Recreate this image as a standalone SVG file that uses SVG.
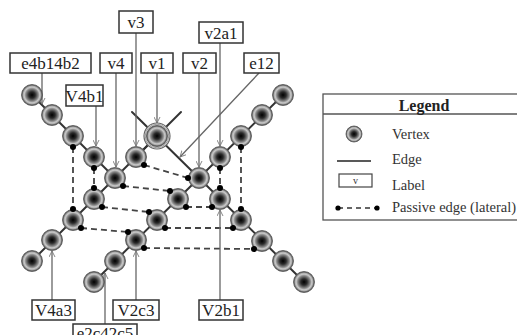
<svg xmlns="http://www.w3.org/2000/svg" xmlns:xlink="http://www.w3.org/1999/xlink" width="517" height="335" viewBox="0 0 517 335">
<style>
.edge{stroke:#333;stroke-width:2;fill:none;stroke-linecap:round}
.pass{stroke:#444;stroke-width:1.8;stroke-dasharray:6,4;fill:none}
.dot{fill:#000}
.lline{stroke:#666;stroke-width:1.3;fill:none}
.box{fill:#fff;stroke:#333;stroke-width:1.5}
.lt{font-family:"Liberation Serif",serif;font-size:17px;fill:#222;text-anchor:middle}
.leg{font-family:"Liberation Serif",serif;font-size:14.5px;fill:#333}
.vtx{fill:url(#vg);stroke:#555;stroke-width:0.8}
</style>
<defs>
<radialGradient id="vg" cx="0.5" cy="0.5" r="0.5">
<stop offset="0" stop-color="#000"/>
<stop offset="0.3" stop-color="#2a2a2a"/>
<stop offset="0.6" stop-color="#8a8a8a"/>
<stop offset="0.74" stop-color="#c8c8c8"/>
<stop offset="0.84" stop-color="#adadad"/>
<stop offset="0.92" stop-color="#707070"/>
<stop offset="1" stop-color="#555"/>
</radialGradient>
<marker id="arr" viewBox="0 0 8 8" refX="7" refY="4" markerWidth="7" markerHeight="7" orient="auto" markerUnits="userSpaceOnUse">
<path d="M0,0.5 L7,4 L0,7.5" fill="none" stroke="#777" stroke-width="1"/>
</marker>
</defs>
<rect width="517" height="335" fill="#fff"/>

<g id="connectors">
<line class="edge" x1="32" y1="95" x2="115" y2="178"/>
<line class="edge" x1="115" y1="178" x2="157" y2="136"/>
<line class="edge" x1="132" y1="112" x2="199" y2="178"/>
<line class="edge" x1="181" y1="112" x2="136" y2="157"/>
<line class="edge" x1="283" y1="95" x2="199" y2="178"/>
<line class="edge" x1="199" y1="178" x2="94" y2="282"/>
<line class="edge" x1="199" y1="178" x2="304" y2="282"/>
<line class="edge" x1="115" y1="178" x2="32" y2="261"/>

<line class="pass" x1="73" y1="147" x2="73" y2="209"/>
<line class="pass" x1="94" y1="168" x2="94" y2="188"/>
<line class="pass" x1="220" y1="168" x2="220" y2="188"/>
<line class="pass" x1="241" y1="147" x2="241" y2="209"/>
<line class="pass" x1="144" y1="165" x2="188" y2="178"/>
<line class="pass" x1="123" y1="186" x2="170" y2="191"/>
<line class="pass" x1="102" y1="207" x2="149" y2="212"/>
<line class="pass" x1="81" y1="228" x2="128" y2="232"/>
<line class="pass" x1="186" y1="207" x2="212" y2="207"/>
<line class="pass" x1="165" y1="228" x2="233" y2="228"/>
<line class="pass" x1="144" y1="248" x2="254" y2="249"/>

<line class="lline" x1="42" y1="73" x2="42" y2="104" marker-end="url(#arr)"/>
<line class="lline" x1="96" y1="106" x2="96" y2="146" marker-end="url(#arr)"/>
<line class="lline" x1="116" y1="73" x2="116" y2="167" marker-end="url(#arr)"/>
<line class="lline" x1="136" y1="33" x2="136" y2="146" marker-end="url(#arr)"/>
<line class="lline" x1="157" y1="73" x2="157" y2="123" marker-end="url(#arr)"/>
<line class="lline" x1="199" y1="73" x2="199" y2="167" marker-end="url(#arr)"/>
<line class="lline" x1="220" y1="43" x2="220" y2="146" marker-end="url(#arr)"/>
<line class="lline" x1="259" y1="73" x2="180" y2="157" marker-end="url(#arr)"/>
<line class="lline" x1="52" y1="300" x2="52" y2="251" marker-end="url(#arr)"/>
<line class="lline" x1="136" y1="300" x2="136" y2="251" marker-end="url(#arr)"/>
<line class="lline" x1="220" y1="300" x2="220" y2="210" marker-end="url(#arr)"/>
<line class="lline" x1="105" y1="324" x2="105" y2="273" marker-end="url(#arr)"/>
</g>

<g id="v1-ring"><circle cx="157" cy="136" r="13" fill="#fff" stroke="#666" stroke-width="1.2"/><circle cx="157" cy="136" r="11.8" fill="#ddd" stroke="#888" stroke-width="0.8"/></g>

<g id="nodes">
<g id="n-a1"><circle class="vtx" cx="32" cy="95" r="10.5"/></g>
<g id="n-a2"><circle class="vtx" cx="52" cy="115" r="10.5"/></g>
<g id="n-a3"><circle class="vtx" cx="73" cy="136" r="10.5"/></g>
<g id="n-v4b1"><circle class="vtx" cx="94" cy="157" r="10.5"/></g>
<g id="n-v4"><circle class="vtx" cx="115" cy="178" r="10.5"/></g>
<g id="n-v3"><circle class="vtx" cx="136" cy="157" r="10.5"/></g>
<g id="n-v1"><circle class="vtx" cx="157" cy="136" r="10.5"/></g>
<g id="n-b1"><circle class="vtx" cx="283" cy="95" r="10.5"/></g>
<g id="n-b2"><circle class="vtx" cx="262" cy="115" r="10.5"/></g>
<g id="n-b3"><circle class="vtx" cx="241" cy="136" r="10.5"/></g>
<g id="n-v2a1"><circle class="vtx" cx="220" cy="157" r="10.5"/></g>
<g id="n-v2"><circle class="vtx" cx="199" cy="178" r="10.5"/></g>
<g id="n-c1"><circle class="vtx" cx="178" cy="199" r="10.5"/></g>
<g id="n-c2"><circle class="vtx" cx="157" cy="220" r="10.5"/></g>
<g id="n-v2c3"><circle class="vtx" cx="136" cy="240" r="10.5"/></g>
<g id="n-c4"><circle class="vtx" cx="115" cy="261" r="10.5"/></g>
<g id="n-c5"><circle class="vtx" cx="94" cy="282" r="10.5"/></g>
<g id="n-v2b1"><circle class="vtx" cx="220" cy="199" r="10.5"/></g>
<g id="n-d2"><circle class="vtx" cx="241" cy="220" r="10.5"/></g>
<g id="n-d3"><circle class="vtx" cx="262" cy="241" r="10.5"/></g>
<g id="n-d4"><circle class="vtx" cx="283" cy="261" r="10.5"/></g>
<g id="n-d5"><circle class="vtx" cx="304" cy="282" r="10.5"/></g>
<g id="n-e1"><circle class="vtx" cx="94" cy="199" r="10.5"/></g>
<g id="n-e2"><circle class="vtx" cx="73" cy="220" r="10.5"/></g>
<g id="n-v4a3"><circle class="vtx" cx="52" cy="240" r="10.5"/></g>
<g id="n-e4"><circle class="vtx" cx="32" cy="261" r="10.5"/></g>
</g>

<g id="ports">
<circle class="dot" cx="73" cy="147" r="3"/>
<circle class="dot" cx="73" cy="209" r="3"/>
<circle class="dot" cx="94" cy="168" r="3"/>
<circle class="dot" cx="94" cy="188" r="3"/>
<circle class="dot" cx="220" cy="168" r="3"/>
<circle class="dot" cx="220" cy="188" r="3"/>
<circle class="dot" cx="241" cy="147" r="3"/>
<circle class="dot" cx="241" cy="209" r="3"/>
<circle class="dot" cx="144" cy="165" r="3"/>
<circle class="dot" cx="188" cy="178" r="3"/>
<circle class="dot" cx="123" cy="186" r="3"/>
<circle class="dot" cx="170" cy="191" r="3"/>
<circle class="dot" cx="102" cy="207" r="3"/>
<circle class="dot" cx="149" cy="212" r="3"/>
<circle class="dot" cx="81" cy="228" r="3"/>
<circle class="dot" cx="128" cy="232" r="3"/>
<circle class="dot" cx="186" cy="207" r="3"/>
<circle class="dot" cx="212" cy="207" r="3"/>
<circle class="dot" cx="165" cy="228" r="3"/>
<circle class="dot" cx="233" cy="228" r="3"/>
<circle class="dot" cx="144" cy="248" r="3"/>
<circle class="dot" cx="254" cy="249" r="3"/>
</g>

<g id="label-v3"><rect class="box" x="119" y="11" width="34" height="22"/><text class="lt" x="136" y="28">v3</text></g>
<g id="label-v2a1"><rect class="box" x="199" y="22" width="44" height="21"/><text class="lt" x="221" y="38.5">v2a1</text></g>
<g id="label-e4b14b2"><rect class="box" x="10" y="53" width="81" height="20"/><text class="lt" x="50.5" y="68.5">e4b14b2</text></g>
<g id="label-v4"><rect class="box" x="100" y="53" width="32" height="20"/><text class="lt" x="116" y="68.5">v4</text></g>
<g id="label-v1"><rect class="box" x="141" y="53" width="32" height="20"/><text class="lt" x="157" y="68.5">v1</text></g>
<g id="label-v2"><rect class="box" x="183" y="53" width="33" height="20"/><text class="lt" x="199.5" y="68.5">v2</text></g>
<g id="label-e12"><rect class="box" x="244" y="53" width="35" height="20"/><text class="lt" x="261.5" y="68.5">e12</text></g>
<g id="label-V4b1"><rect class="box" x="66" y="85" width="37" height="21"/><text class="lt" x="84.5" y="101.5">V4b1</text></g>
<g id="label-V4a3"><rect class="box" x="32" y="300" width="43" height="20"/><text class="lt" x="53.5" y="315.5">V4a3</text></g>
<g id="label-V2c3"><rect class="box" x="113" y="300" width="46" height="20"/><text class="lt" x="136" y="315.5">V2c3</text></g>
<g id="label-V2b1"><rect class="box" x="199" y="300" width="44" height="20"/><text class="lt" x="221" y="315.5">V2b1</text></g>
<g id="label-e2c42c5"><rect class="box" x="73" y="324" width="64" height="20"/><text class="lt" x="105" y="339">e2c42c5</text></g>

<g id="legend">
<rect x="323" y="94" width="200" height="126" fill="#fff" stroke="#555" stroke-width="1.3"/>
<line x1="323" y1="114" x2="517" y2="114" stroke="#555" stroke-width="1.3"/>
<text x="424" y="110.5" font-family="Liberation Serif,serif" font-size="16" font-weight="bold" fill="#222" text-anchor="middle">Legend</text>
<circle class="vtx" cx="354" cy="134" r="8"/>
<text class="leg" x="392" y="139">Vertex</text>
<line x1="337" y1="161" x2="371" y2="161" stroke="#222" stroke-width="1.6"/>
<text class="leg" x="392" y="164">Edge</text>
<rect x="339" y="174" width="33" height="13" fill="#fff" stroke="#444" stroke-width="1.2"/>
<text x="355.5" y="184" font-family="Liberation Serif,serif" font-size="10" fill="#333" text-anchor="middle">v</text>
<text class="leg" x="392" y="190">Label</text>
<line x1="338" y1="208" x2="377" y2="208" stroke="#333" stroke-width="1.5" stroke-dasharray="5,4"/>
<circle class="dot" cx="338" cy="208" r="2.6"/>
<circle class="dot" cx="377" cy="208" r="2.6"/>
<text class="leg" x="392" y="212">Passive edge (lateral)</text>
</g>
</svg>
